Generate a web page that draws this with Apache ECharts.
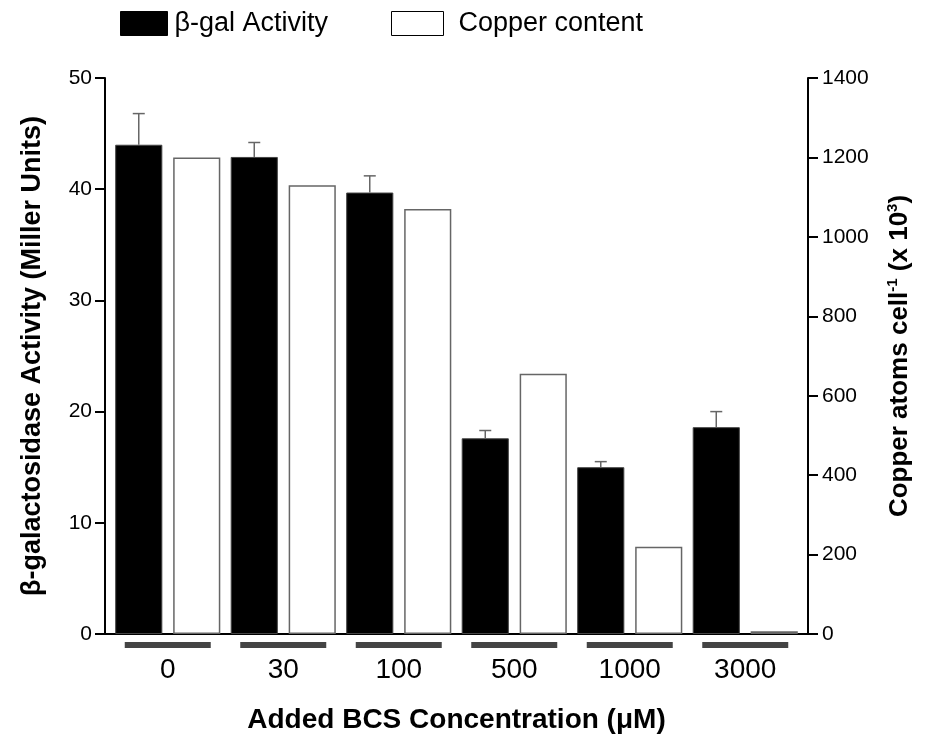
<!DOCTYPE html>
<html>
<head>
<meta charset="utf-8">
<script src="https://cdn.jsdelivr.net/npm/echarts@6/dist/echarts.min.js"></script>
<style>
  html, body { margin: 0; padding: 0; background: #fff; }
  #chart { width: 926px; height: 742px; }
</style>
</head>
<body>
<div id="chart"></div>
<script>
// BCS concentrations (µM)
const categories = ['0', '30', '100', '500', '1000', '3000'];
// β-galactosidase activity (Miller units) and its upper error
const galActivity = [44.0, 42.9, 39.7, 17.6, 15.0, 18.6];
const galError = [2.8, 1.3, 1.5, 0.7, 0.5, 1.4];
// Copper atoms per cell (x 10^3)
const copperContent = [1200, 1130, 1070, 655, 220, 7];

const leftTicks = { min: 0, max: 50, interval: 10 };
const rightTicks = { min: 0, max: 1400, interval: 200 };

const FONT = '"Liberation Sans", Arial, sans-serif';
const CAT_GAP = 0.09;
const BAR_GAP = 0.23;

const chart = echarts.init(document.getElementById('chart'));

const axisLineStyle = { lineStyle: { color: '#000', width: 2 } };

chart.setOption({
  animation: false,
  backgroundColor: '#fff',
  textStyle: { fontFamily: FONT },
  legend: [
    {
      left: 120, top: 10, padding: 0,
      icon: 'rect',
      itemWidth: 47, itemHeight: 24,
      data: ['β-gal Activity'],
      itemStyle: { borderColor: '#000', borderWidth: 1 },
      textStyle: { fontSize: 27, color: '#000', fontFamily: FONT, padding: [0, 0, 0, 2] }
    },
    {
      left: 391, top: 10, padding: 0,
      icon: 'rect',
      itemWidth: 52, itemHeight: 24,
      data: ['Copper content'],
      itemStyle: { borderColor: '#000', borderWidth: 1 },
      textStyle: { fontSize: 27, color: '#000', fontFamily: FONT, padding: [0, 0, 0, 10] }
    }
  ],
  grid: [
    // frame holding the visible axes
    { left: 105, right: 118, top: 78, bottom: 108 },
    // band holding the bars
    { left: 110, right: 123, top: 78, bottom: 108 }
  ],
  xAxis: [
    {
      gridIndex: 0, type: 'category', data: categories,
      axisLine: axisLineStyle, axisTick: { show: false }, axisLabel: { show: false },
      splitLine: { show: false }
    },
    {
      gridIndex: 1, type: 'category', data: categories,
      axisLine: { show: false }, axisTick: { show: false },
      axisLabel: {
        interval: 0, margin: 8,
        formatter: v => '{bar|}\n{v|' + v + '}',
        rich: {
          bar: { width: 86, height: 6, backgroundColor: '#444' },
          v: { fontSize: 28, color: '#000', fontFamily: FONT, lineHeight: 34, padding: [11, 0, 0, 0] }
        }
      },
      name: 'Added BCS Concentration (μM)',
      nameLocation: 'middle', nameGap: 72,
      nameTextStyle: { fontSize: 28, fontWeight: 'bold', color: '#000', fontFamily: FONT }
    }
  ],
  yAxis: [
    {
      gridIndex: 0, type: 'value', position: 'left',
      min: leftTicks.min, max: leftTicks.max, interval: leftTicks.interval,
      axisLine: { show: true, lineStyle: { color: '#000', width: 2 } },
      axisTick: { show: true, inside: false, length: 10, lineStyle: { color: '#000', width: 2 } },
      axisLabel: { fontSize: 21, color: '#000', margin: 13, fontFamily: FONT },
      splitLine: { show: false },
      name: 'β-galactosidase Activity (Miller Units)',
      nameLocation: 'middle', nameGap: 59, nameRotate: 90,
      nameTextStyle: { fontSize: 27, fontWeight: 'bold', color: '#000', fontFamily: FONT }
    },
    {
      gridIndex: 0, type: 'value', position: 'right',
      min: rightTicks.min, max: rightTicks.max, interval: rightTicks.interval,
      axisLine: { show: true, lineStyle: { color: '#000', width: 2 } },
      axisTick: { show: true, inside: false, length: 10, lineStyle: { color: '#000', width: 2 } },
      axisLabel: { fontSize: 21, color: '#000', margin: 14, fontFamily: FONT, formatter: v => String(v) },
      splitLine: { show: false },
      name: 'Copper atoms cell{sup|-1} (x 10{sup|3})',
      nameLocation: 'middle', nameGap: 77, nameRotate: 90,
      nameTextStyle: {
        fontSize: 26, fontWeight: 'bold', color: '#000', fontFamily: FONT, lineHeight: 30,
        rich: { sup: { fontSize: 15, fontWeight: 'bold', color: '#000', fontFamily: FONT, verticalAlign: 'top' } }
      }
    },
    { gridIndex: 1, type: 'value', min: leftTicks.min, max: leftTicks.max, show: false, splitLine: { show: false } },
    { gridIndex: 1, type: 'value', min: rightTicks.min, max: rightTicks.max, show: false, splitLine: { show: false } }
  ],
  series: [
    {
      name: 'β-gal Activity', type: 'bar',
      xAxisIndex: 1, yAxisIndex: 2,
      data: galActivity,
      barCategoryGap: (CAT_GAP * 100) + '%', barGap: (BAR_GAP * 100) + '%',
      itemStyle: { color: '#000', borderColor: '#444', borderWidth: 1 }
    },
    {
      name: 'Copper content', type: 'bar',
      xAxisIndex: 1, yAxisIndex: 3,
      data: copperContent,
      barCategoryGap: (CAT_GAP * 100) + '%', barGap: (BAR_GAP * 100) + '%',
      itemStyle: { color: '#fff', borderColor: '#666', borderWidth: 1.5 }
    },
    {
      // upward error bars on the activity bars
      name: 'errors', type: 'custom',
      xAxisIndex: 1, yAxisIndex: 2,
      data: galActivity.map((v, i) => [i, v, galError[i]]),
      z: 5,
      renderItem: function (params, api) {
        const i = api.value(0), v = api.value(1), e = api.value(2);
        const base = api.coord([i, v]);
        const top = api.coord([i, v + e]);
        const w = api.size([1, 0])[0];
        const bw = w * (1 - CAT_GAP) / (2 + BAR_GAP);
        const x = base[0] - bw * (1 + BAR_GAP) / 2;
        const style = { stroke: '#666', lineWidth: 1.5 };
        return {
          type: 'group',
          children: [
            { type: 'line', shape: { x1: x, y1: base[1], x2: x, y2: top[1] }, style: style },
            { type: 'line', shape: { x1: x - 6, y1: top[1], x2: x + 6, y2: top[1] }, style: style }
          ]
        };
      }
    }
  ]
});
</script>
</body>
</html>
